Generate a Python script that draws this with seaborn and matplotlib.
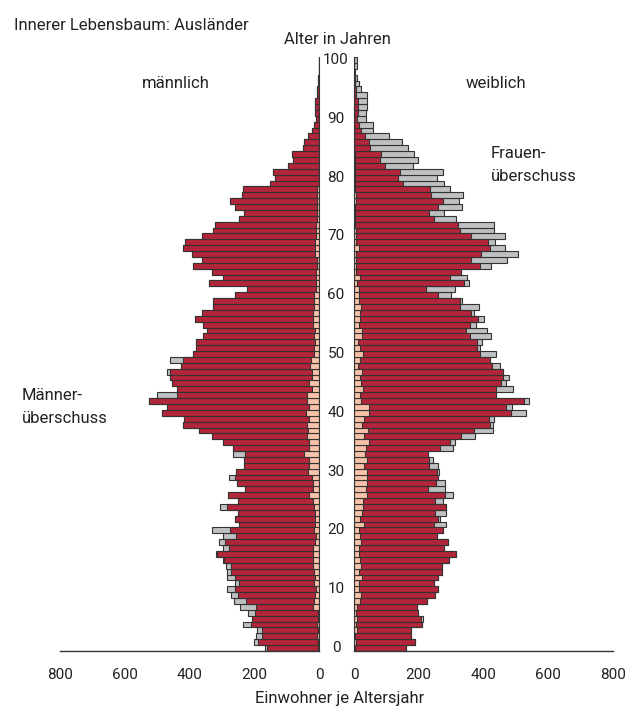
import numpy as np
import matplotlib
matplotlib.use("Agg")
import matplotlib.pyplot as plt
import matplotlib.transforms as mtransforms
import seaborn as sns

# Altersjahre 0 bis 100
alter = list(range(101))

# Einwohner je Altersjahr (Ausländer)
maenner = [168, 202, 196, 192, 234, 208, 219, 244, 264, 271,
           284, 259, 285, 284, 287, 298, 319, 298, 308, 295,
           331, 247, 260, 251, 306, 249, 282, 229, 252, 278,
           255, 231, 233, 267, 265, 295, 329, 372, 420, 418,
           486, 469, 525, 499, 439, 453, 459, 468, 426, 461,
           390, 379, 381, 357, 345, 357, 383, 362, 326, 326,
           258, 222, 339, 298, 329, 388, 362, 391, 419, 413,
           362, 328, 321, 247, 232, 258, 274, 239, 236, 152,
           135, 143, 96, 79, 82, 49, 47, 35, 21, 14,
           10, 11, 11, 11, 5, 6, 2, 2, 1, 1,
           1]

frauen = [160, 187, 176, 176, 209, 212, 198, 195, 226, 251,
          258, 248, 261, 272, 272, 292, 315, 278, 290, 256,
          275, 285, 267, 284, 284, 275, 305, 281, 280, 260,
          262, 260, 245, 229, 307, 313, 373, 428, 429, 431,
          530, 488, 540, 440, 490, 469, 479, 460, 451, 420,
          439, 389, 396, 423, 412, 377, 402, 371, 385, 334,
          299, 313, 355, 349, 332, 424, 474, 508, 466, 437,
          467, 431, 433, 314, 278, 333, 325, 337, 298, 279,
          257, 276, 182, 199, 186, 168, 148, 107, 58, 58,
          38, 38, 41, 41, 41, 22, 15, 9, 3, 8,
          10]

# innerer (heller) Anteil
maenner_innen = [4, 2, 5, 4, 7, 4, 4, 20, 16, 12,
                 10, 14, 12, 14, 17, 20, 20, 20, 12, 10,
                 16, 12, 12, 12, 16, 20, 30, 20, 20, 23,
                 35, 31, 31, 46, 31, 31, 38, 35, 38, 32,
                 40, 30, 38, 36, 23, 30, 21, 23, 27, 25,
                 16, 14, 12, 16, 12, 20, 20, 20, 14, 16,
                 16, 9, 9, 9, 9, 7, 7, 12, 12, 12,
                 9, 9, 10, 5, 5, 5, 5, 5, 5, 0,
                 0, 0, 0, 0, 0, 0, 0, 0, 0, 0,
                 0, 0, 0, 0, 0, 0, 0, 0, 0, 0,
                 0]

frauen_innen = [4, 6, 3, 9, 5, 9, 6, 8, 19, 21,
                15, 15, 25, 15, 21, 20, 15, 15, 23, 20,
                15, 30, 18, 24, 29, 28, 40, 37, 41, 40,
                41, 31, 40, 33, 38, 45, 32, 44, 24, 30,
                47, 47, 23, 18, 27, 21, 18, 25, 13, 20,
                27, 19, 12, 25, 26, 15, 20, 20, 23, 15,
                15, 15, 9, 18, 7, 7, 7, 7, 15, 5,
                5, 5, 3, 3, 3, 3, 5, 7, 3, 3,
                3, 2, 2, 2, 4, 0, 0, 0, 0, 0,
                0, 0, 0, 0, 0, 0, 0, 0, 0, 0,
                0]

x_ticks = [0, 200, 400, 600, 800]
alter_labels = [0, 10, 20, 30, 40, 50, 60, 70, 80, 90, 100]

# gemeinsamer Teil (rot), Überschuss wird grau dargestellt
gemeinsam = np.minimum(maenner, frauen)

ROT = "#b3253a"
GRAU = "#bfc0c2"
ROSA = "#f8c2aa"
RAND = "#333333"
TEXT = "#222222"
FS = 12      # Beschriftungen
FS_T = 11    # Zahlen an den Achsen

sns.set_style("white")
plt.rcParams["font.family"] = ["Roboto", "DejaVu Sans"]
plt.rcParams["font.size"] = FS

W, H = 628, 707
fig = plt.figure(figsize=(W / 100, H / 100), dpi=100)
ax_m = fig.add_axes([60 / W, 1 - 651 / H, 259 / W, 594 / H])
ax_w = fig.add_axes([354 / W, 1 - 651 / H, 259 / W, 594 / H])


def zeichne_seite(ax, gesamt, innen):
    for werte, farbe in [(gesamt, GRAU), (gemeinsam, ROT), (innen, ROSA)]:
        sns.barplot(x=werte, y=alter, orient="h", native_scale=True, color=farbe,
                    saturation=1, width=1.0, edgecolor=RAND, linewidth=0.8,
                    errorbar=None, ax=ax)
    ax.set_ylim(-0.5, 100.5)
    ax.set_yticks([])
    ax.set_ylabel("")
    ax.set_xlabel("")
    ax.set_xticks(x_ticks)
    ax.set_xticklabels([str(t) for t in x_ticks], color=TEXT, fontsize=FS_T)
    ax.tick_params(axis="x", direction="out", length=4.5, width=1, color=RAND, pad=8)
    for s in ["top", "left", "right", "bottom"]:
        ax.spines[s].set_visible(False)
    ax.spines["bottom"].set_visible(True)
    ax.spines["bottom"].set_color(RAND)
    ax.spines["bottom"].set_linewidth(1)


zeichne_seite(ax_m, maenner, maenner_innen)
ax_m.set_xlim(800, 0)
ax_m.spines["right"].set_visible(True)
ax_m.spines["right"].set_color(RAND)

zeichne_seite(ax_w, frauen, frauen_innen)
ax_w.set_xlim(0, 800)
ax_w.spines["left"].set_visible(True)
ax_w.spines["left"].set_color(RAND)

# Alterslabels in der Mitte
trans = mtransforms.blended_transform_factory(fig.transFigure, ax_m.transData)
for a in alter_labels:
    fig.text(336 / W, a, str(a), transform=trans, ha="center", va="center",
             fontsize=FS_T, color=TEXT)


def txt(x, y, s, ha="left"):
    # y = Grundlinie in Pixeln von oben
    fig.text(x / W, 1 - y / H, s, ha=ha, va="baseline", fontsize=FS, color=TEXT)


txt(14, 30, "Innerer Lebensbaum: Ausländer")
txt(337, 44, "Alter in Jahren", ha="center")
txt(176, 88, "männlich", ha="center")
txt(496, 88, "weiblich", ha="center")
txt(491, 158, "Frauen-")
txt(491, 181, "überschuss")
txt(22, 400, "Männer-")
txt(22, 423, "überschuss")
txt(340, 703, "Einwohner je Altersjahr", ha="center")

fig.savefig("out.png", dpi=100)
